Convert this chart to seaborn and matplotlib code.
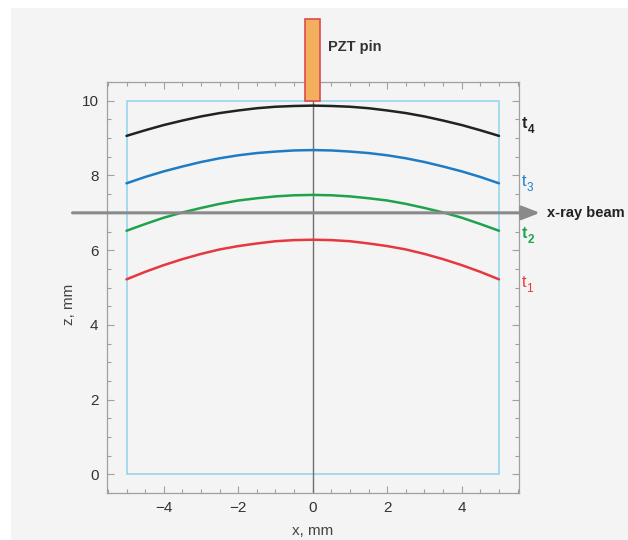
import numpy as np
import pandas as pd
import matplotlib
matplotlib.use('Agg')
import matplotlib.pyplot as plt
from matplotlib.patches import Rectangle
from matplotlib.ticker import MultipleLocator
import seaborn as sns

# ─────────────────────────────────────
# DATA
# ─────────────────────────────────────
x_mm = [-5.0, -4.5, -4.0, -3.5, -3.0, -2.5, -2.0, -1.5, -1.0, -0.5, 0.0,
        0.5, 1.0, 1.5, 2.0, 2.5, 3.0, 3.5, 4.0, 4.5, 5.0]

z_t1 = [5.22, 5.42, 5.60, 5.76, 5.90, 6.02, 6.11, 6.18, 6.24, 6.27, 6.28,
        6.27, 6.24, 6.18, 6.11, 6.02, 5.90, 5.76, 5.60, 5.42, 5.22]
z_t2 = [6.52, 6.70, 6.87, 7.01, 7.13, 7.24, 7.33, 7.39, 7.44, 7.47, 7.48,
        7.47, 7.44, 7.39, 7.33, 7.24, 7.13, 7.01, 6.87, 6.70, 6.52]
z_t3 = [7.79, 7.96, 8.11, 8.24, 8.36, 8.46, 8.54, 8.60, 8.64, 8.67, 8.68,
        8.67, 8.64, 8.60, 8.54, 8.46, 8.36, 8.24, 8.11, 7.96, 7.79]
z_t4 = [9.06, 9.21, 9.35, 9.47, 9.58, 9.67, 9.74, 9.80, 9.84, 9.86, 9.87,
        9.86, 9.84, 9.80, 9.74, 9.67, 9.58, 9.47, 9.35, 9.21, 9.06]

series_names = ['t1', 't2', 't3', 't4']
label_sub = ['1', '2', '3', '4']
label_bold = [False, True, False, True]
label_z = [5.02, 6.32, 7.72, 9.27]
colors = ['#e5383f', '#1ea34b', '#1f7cc4', '#222222']

# sample block and pin (mm)
sample_x = [-5, 5]
sample_z = [0, 10]
pin_x = [-0.2, 0.2]
pin_z = [10, 12.2]
beam_z = 7.0
beam_x = [-6.45, 6.1]

df = pd.DataFrame({
    'x': x_mm * 4,
    'z': z_t1 + z_t2 + z_t3 + z_t4,
    'time': sum([[n] * len(x_mm) for n in series_names], []),
})

# ─────────────────────────────────────
# PLOT
# ─────────────────────────────────────
sns.set_theme(style="ticks")
plt.rcParams['font.family'] = ['Liberation Sans', 'DejaVu Sans']

bg = '#f4f4f4'
fig = plt.figure(figsize=(6.28, 5.40), dpi=100, facecolor='white')
fig.patches.append(Rectangle((0.0175, 0), 0.99, 0.985, transform=fig.transFigure,
                             facecolor=bg, edgecolor='none', zorder=-10))
ax = fig.add_axes([0.170, 0.087, 0.656, 0.761])
ax.set_facecolor(bg)

# sample outline
ax.add_patch(Rectangle((sample_x[0], sample_z[0]), sample_x[1] - sample_x[0],
                       sample_z[1] - sample_z[0], fill=False,
                       edgecolor='#8dd3ee', linewidth=1.1, zorder=1))
# centre line
ax.axvline(0, color='#6f6f6f', linewidth=1.0, zorder=2)

sns.lineplot(data=df, x='x', y='z', hue='time', palette=colors,
             hue_order=series_names, linewidth=1.8, legend=False, ax=ax, zorder=3)

# PZT pin
ax.add_patch(Rectangle((pin_x[0], pin_z[0]), pin_x[1] - pin_x[0],
                       pin_z[1] - pin_z[0], facecolor='#f2b05e',
                       edgecolor='#e0484f', linewidth=1.2, clip_on=False, zorder=5))
ax.text(0.4, 11.45, 'PZT pin', fontsize=10.5, fontweight='bold', color='#333333',
        va='center', ha='left')

# x-ray beam
ax.annotate('', xy=(beam_x[1], beam_z), xytext=(beam_x[0], beam_z),
            annotation_clip=False, zorder=6,
            arrowprops=dict(arrowstyle='-|>,head_length=0.9,head_width=0.35',
                            color='#8a8a8a', linewidth=2.2, shrinkA=0, shrinkB=0))
ax.text(6.28, beam_z, 'x-ray beam', fontsize=10.5, fontweight='bold',
        color='#222222', va='center', ha='left', clip_on=False)

# t labels: main letter plus a lowered, smaller digit
for sub, zz, c, b in zip(label_sub, label_z, colors, label_bold):
    w = 'bold' if b else 'normal'
    ax.text(5.62, zz, 't', fontsize=11.5, color=c, fontweight=w,
            va='baseline', ha='left')
    ax.annotate(sub, xy=(5.62, zz), xytext=(4.0 if b else 3.1, -3.5),
                textcoords='offset points', fontsize=8.5, color=c, fontweight=w,
                va='baseline', ha='left', annotation_clip=False)

ax.set_xlim(-5.53, 5.53)
ax.set_ylim(-0.5, 10.5)
ax.xaxis.set_major_locator(MultipleLocator(2))
ax.xaxis.set_minor_locator(MultipleLocator(0.5))
ax.yaxis.set_major_locator(MultipleLocator(2))
ax.yaxis.set_minor_locator(MultipleLocator(0.5))
ax.tick_params(which='both', direction='in', top=True, right=True,
               color='#a0a0a0', width=0.8)
ax.tick_params(which='major', length=5, labelsize=11, labelcolor='#333333', pad=6)
ax.tick_params(which='minor', length=3)
ax.set_xticks([-4, -2, 0, 2, 4])
ax.set_xticklabels(['\u22124', '\u22122', '0', '2', '4'])
ax.set_yticks([0, 2, 4, 6, 8, 10])
ax.set_yticklabels(['0', '2', '4', '6', '8', '10'])
for s in ax.spines.values():
    s.set_color('#a0a0a0')
    s.set_linewidth(0.9)

ax.set_xlabel('x, mm', fontsize=11, color='#444444', labelpad=6)
ax.set_ylabel('z, mm', fontsize=11, color='#444444', labelpad=4, y=0.46)

plt.savefig('out.png', dpi=100, facecolor='white')
